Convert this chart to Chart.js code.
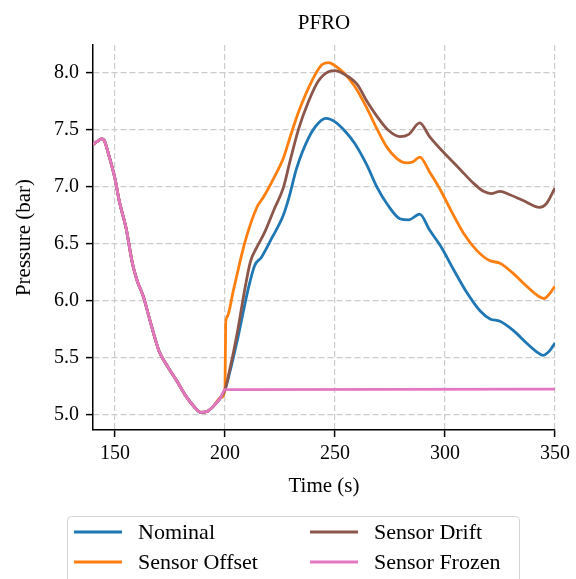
<!DOCTYPE html>
<html>
<head>
<meta charset="utf-8">
<script src="https://cdn.jsdelivr.net/npm/chart.js@4.4.1/dist/chart.umd.min.js"></script>
<style>
  body { margin: 0; background: #ffffff; }
  #wrap { width: 576px; height: 579px; }
</style>
</head>
<body>
<div id="wrap"><canvas id="pfroChart" width="576" height="579"></canvas></div>
<script>
// shared part of the run, all four cases are identical up to t = 200 s
const commonTime = [140, 142, 144, 145, 147, 150, 152, 155, 158, 160, 163, 166, 170, 174, 178, 182, 186, 189, 192, 195, 198, 200];
const commonPressure = [7.37, 7.40, 7.42, 7.41, 7.29, 7.07, 6.87, 6.64, 6.32, 6.18, 6.03, 5.82, 5.56, 5.42, 5.30, 5.17, 5.07, 5.02, 5.03, 5.08, 5.15, 5.22];

// after the fault at t = 200 s
const nominalTime = [202, 206, 210.5, 213.5, 216.5, 221, 226.5, 229, 232.5, 238, 242.5, 246, 250, 254.5, 259, 264.5, 269, 274, 279.5, 283.5, 288.5, 293, 298, 304, 310, 316, 320.5, 325, 331, 337, 342.5, 344.5, 347.5, 350];
const nominalPressure = [5.36, 5.69, 6.10, 6.31, 6.38, 6.54, 6.75, 6.90, 7.16, 7.43, 7.56, 7.60, 7.57, 7.49, 7.38, 7.19, 7.00, 6.84, 6.72, 6.71, 6.76, 6.62, 6.48, 6.27, 6.07, 5.91, 5.84, 5.82, 5.74, 5.63, 5.54, 5.52, 5.56, 5.63];

const offsetTime = [200.3, 201, 203.8, 209, 214.5, 217.5, 222, 226.5, 229.5, 233.5, 239.5, 244, 247, 251.5, 254, 259, 264.5, 269, 273.5, 278, 282.5, 285.5, 288.5, 293, 298, 302.5, 308.5, 314.5, 320.5, 325, 331, 337, 342.5, 345, 347.5, 350];
const offsetPressure = [5.80, 5.86, 6.09, 6.51, 6.82, 6.91, 7.07, 7.25, 7.43, 7.66, 7.93, 8.07, 8.09, 8.04, 8.00, 7.88, 7.69, 7.51, 7.35, 7.25, 7.21, 7.22, 7.26, 7.13, 6.97, 6.80, 6.59, 6.44, 6.35, 6.33, 6.24, 6.13, 6.04, 6.02, 6.06, 6.13];

const driftTime = [202, 205.5, 209, 211.5, 214.5, 218, 222.5, 226.5, 229.5, 233.5, 238, 242.5, 247, 250, 254, 260, 264.5, 269, 274, 279.5, 283.5, 288.5, 293, 297.5, 302.5, 307, 313, 317.5, 321, 325, 329.5, 335.5, 343, 346, 350];
const driftPressure = [5.38, 5.71, 6.10, 6.34, 6.47, 6.60, 6.81, 6.99, 7.22, 7.51, 7.75, 7.93, 8.01, 8.02, 7.99, 7.90, 7.75, 7.62, 7.50, 7.44, 7.46, 7.56, 7.44, 7.34, 7.24, 7.15, 7.03, 6.96, 6.94, 6.96, 6.93, 6.88, 6.82, 6.85, 6.99];

const frozenTime = [350];
const frozenPressure = [5.225];

const xTicks = [150, 200, 250, 300, 350];
const yTicks = [5.0, 5.5, 6.0, 6.5, 7.0, 7.5, 8.0];

const labels = ['Nominal', 'Sensor Offset', 'Sensor Drift', 'Sensor Frozen'];
const colors = ['#1f77b4', '#ff7f0e', '#8c564b', '#e377c2'];

const serif = '"Liberation Serif", "Times New Roman", serif';

function toPoints(t, p) {
    const pts = commonTime.map((x, i) => ({ x: x, y: commonPressure[i] }));
    t.forEach((x, i) => pts.push({ x: x, y: p[i] }));
    return pts;
}

const series = [
    toPoints(nominalTime, nominalPressure),
    toPoints(offsetTime, offsetPressure),
    toPoints(driftTime, driftPressure),
    toPoints(frozenTime, frozenPressure)
];

// matplotlib-style legend box below the axes, two columns
const legendBox = {
    id: 'legendBox',
    afterDraw(chart) {
        const ctx = chart.ctx;
        ctx.save();
        ctx.beginPath();
        ctx.roundRect(67.5, 516.5, 452, 80, 4);
        ctx.fillStyle = 'rgba(255,255,255,0.8)';
        ctx.fill();
        ctx.strokeStyle = '#d4d4d4';
        ctx.lineWidth = 1;
        ctx.stroke();
        ctx.font = '22px ' + serif;
        ctx.textBaseline = 'middle';
        ctx.textAlign = 'left';
        chart.data.datasets.forEach((ds, i) => {
            const x0 = 74 + Math.floor(i / 2) * 236;
            const y = 532 + (i % 2) * 30;
            ctx.beginPath();
            ctx.moveTo(x0, y);
            ctx.lineTo(x0 + 48, y);
            ctx.strokeStyle = ds.borderColor;
            ctx.lineWidth = 2.8;
            ctx.stroke();
            ctx.fillStyle = '#000';
            ctx.fillText(ds.label, x0 + 64, y + 1);
        });
        ctx.restore();
    }
};

const whiteBg = {
    id: 'whiteBg',
    beforeDraw(chart) {
        const ctx = chart.ctx;
        ctx.save();
        ctx.fillStyle = '#fff';
        ctx.fillRect(0, 0, chart.width, chart.height);
        ctx.restore();
    }
};

const config = {
    type: 'line',
    data: {
        datasets: series.map((pts, i) => ({
            label: labels[i],
            data: pts,
            borderColor: colors[i],
            backgroundColor: colors[i],
            borderWidth: 2.8,
            pointRadius: 0,
            cubicInterpolationMode: 'monotone',
            fill: false,
            order: 3 - i
        }))
    },
    options: {
        responsive: false,
        animation: false,
        layout: { padding: { left: 0, right: 21, top: 0, bottom: 79 } },
        plugins: {
            legend: { display: false },
            tooltip: { enabled: false },
            title: {
                display: true,
                text: 'PFRO',
                fullSize: false,
                color: '#000',
                font: { family: serif, size: 21, weight: 'normal' },
                padding: { top: 11, bottom: 8.8 }
            }
        },
        scales: {
            x: {
                type: 'linear',
                min: 140,
                max: 350,
                afterFit: (s) => { s.height = 70; },
                afterBuildTicks: (s) => { s.ticks = xTicks.map(v => ({ value: v })); },
                ticks: {
                    color: '#000',
                    padding: 5,
                    maxRotation: 0,
                    font: { family: serif, size: 20 },
                    callback: (v) => String(v)
                },
                grid: {
                    color: '#cccccc',
                    lineWidth: 1.2,
                    tickColor: '#000',
                    tickWidth: 1.5,
                    tickLength: 7
                },
                border: { display: true, color: '#000', width: 1.5, dash: [6, 3] },
                title: {
                    display: true,
                    text: 'Time (s)',
                    color: '#000',
                    font: { family: serif, size: 21 },
                    padding: { top: 0, bottom: 1 }
                }
            },
            y: {
                type: 'linear',
                min: 4.866,
                max: 8.244,
                afterFit: (s) => { s.width = 93; },
                afterBuildTicks: (s) => { s.ticks = yTicks.map(v => ({ value: v })); },
                ticks: {
                    color: '#000',
                    padding: 7,
                    font: { family: serif, size: 20 },
                    callback: (v) => Number(v).toFixed(1)
                },
                grid: {
                    color: '#cccccc',
                    lineWidth: 1.2,
                    tickColor: '#000',
                    tickWidth: 1.5,
                    tickLength: 7
                },
                border: { display: true, color: '#000', width: 1.5, dash: [6, 3] },
                title: {
                    display: true,
                    text: 'Pressure (bar)',
                    color: '#000',
                    font: { family: serif, size: 21 },
                    padding: { top: 12, bottom: 0 }
                }
            }
        }
    },
    plugins: [whiteBg, legendBox]
};

const pfroChart = new Chart(document.getElementById('pfroChart'), config);
</script>
</body>
</html>
